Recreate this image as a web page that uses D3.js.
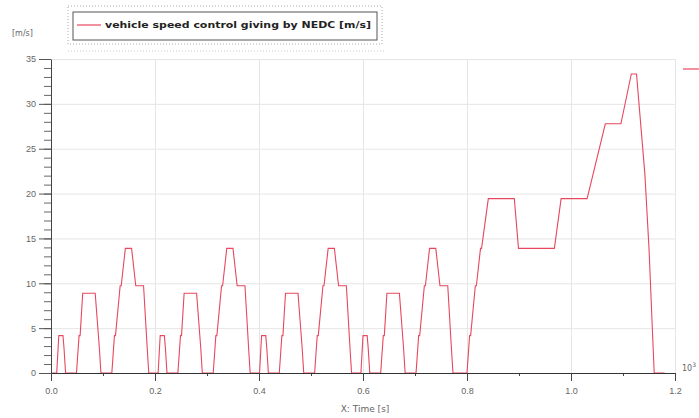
<!DOCTYPE html>
<html>
<head>
<meta charset="utf-8">
<script src="https://cdn.jsdelivr.net/npm/d3@7/dist/d3.min.js"></script>
<style>
  body { margin: 0; background: #fff; }
  svg { display: block; font-family: "DejaVu Sans", Verdana, sans-serif; }
</style>
</head>
<body>
<div id="chart"></div>
<script>
// NEDC speed profile, time in seconds, speed in m/s
const timeS = [
  0, 11, 15, 23, 25, 28, 49, 54, 56, 61, 85, 93, 96, 117, 122, 124, 133, 135, 143, 155, 163, 176, 178, 185, 188,
  195, 206, 210, 218, 220, 223, 244, 249, 251, 256, 280, 288, 291, 312, 317, 319, 328, 330, 338, 350, 358, 371, 373, 380, 383,
  390, 401, 405, 413, 415, 418, 439, 444, 446, 451, 475, 483, 486, 507, 512, 514, 523, 525, 533, 545, 553, 566, 568, 575, 578,
  585, 596, 600, 608, 610, 613, 634, 639, 641, 646, 670, 678, 681, 702, 707, 709, 718, 720, 728, 740, 748, 761, 763, 770, 773,
  780, 800, 805, 807, 816, 818, 826, 828, 841, 891, 899, 968, 981, 1031, 1066, 1096, 1116, 1126, 1142, 1150, 1160, 1180
];
const speedMs = [
  0, 0, 4.17, 4.17, 2.78, 0, 0, 4.17, 4.17, 8.89, 8.89, 2.78, 0, 0, 4.17, 4.17, 9.72, 9.72, 13.89, 13.89, 9.72, 9.72, 9.72, 2.78, 0,
  0, 0, 4.17, 4.17, 2.78, 0, 0, 4.17, 4.17, 8.89, 8.89, 2.78, 0, 0, 4.17, 4.17, 9.72, 9.72, 13.89, 13.89, 9.72, 9.72, 9.72, 2.78, 0,
  0, 0, 4.17, 4.17, 2.78, 0, 0, 4.17, 4.17, 8.89, 8.89, 2.78, 0, 0, 4.17, 4.17, 9.72, 9.72, 13.89, 13.89, 9.72, 9.72, 9.72, 2.78, 0,
  0, 0, 4.17, 4.17, 2.78, 0, 0, 4.17, 4.17, 8.89, 8.89, 2.78, 0, 0, 4.17, 4.17, 9.72, 9.72, 13.89, 13.89, 9.72, 9.72, 9.72, 2.78, 0,
  0, 0, 4.17, 4.17, 9.72, 9.72, 13.89, 13.89, 19.44, 19.44, 13.89, 13.89, 19.44, 19.44, 27.78, 27.78, 33.33, 33.33, 22.22, 13.89, 0, 0
];
const xTicks = [0, 200, 400, 600, 800, 1000, 1200];
const yTicks = [0, 5, 10, 15, 20, 25, 30, 35];
const seriesName = "vehicle speed control giving by NEDC [m/s]";

const data = timeS.map((t, i) => ({ t, v: speedMs[i] }));

const W = 699, H = 418;
const plot = { left: 51, right: 675, top: 59, bottom: 373 };
const lineColor = "#e8475e";

const svg = d3.select("#chart").append("svg")
  .attr("width", W).attr("height", H);

const x = d3.scaleLinear().domain([0, 1200]).range([plot.left, plot.right]);
const y = d3.scaleLinear().domain([0, 35]).range([plot.bottom, plot.top]);

// grid
svg.append("g")
  .attr("transform", `translate(0,${plot.bottom})`)
  .call(d3.axisBottom(x).tickValues(xTicks.slice(1)).tickSize(-(plot.bottom - plot.top)).tickFormat(""))
  .call(g => g.select(".domain").remove())
  .call(g => g.selectAll("line").attr("stroke", "#e6e6e6"));

svg.append("g")
  .attr("transform", `translate(${plot.left},0)`)
  .call(d3.axisLeft(y).tickValues(yTicks.slice(1)).tickSize(-(plot.right - plot.left)).tickFormat(""))
  .call(g => g.select(".domain").remove())
  .call(g => g.selectAll("line").attr("stroke", "#e6e6e6"));

// data line
svg.append("path")
  .datum(data)
  .attr("fill", "none")
  .attr("stroke", lineColor)
  .attr("stroke-width", 1.1)
  .attr("d", d3.line().x(d => x(d.t)).y(d => y(d.v)));

// y axis: minor ticks then major ticks with labels
svg.append("g")
  .attr("transform", `translate(${plot.left},0)`)
  .call(d3.axisLeft(y).ticks(35).tickSize(7).tickFormat(""))
  .call(g => g.select(".domain").remove())
  .call(g => g.selectAll("line").attr("stroke", "#666"));

svg.append("g")
  .attr("transform", `translate(${plot.left},0)`)
  .call(d3.axisLeft(y).tickValues(yTicks).tickSize(12).tickPadding(3).tickSizeOuter(0))
  .call(g => g.select(".domain").attr("stroke", "#444"))
  .call(g => g.selectAll("line").attr("stroke", "#555"))
  .call(g => g.selectAll("text").attr("fill", "#666").style("font-size", "9px"));

// x axis: minor ticks then major ticks with labels
svg.append("g")
  .attr("transform", `translate(0,${plot.bottom})`)
  .call(d3.axisBottom(x).ticks(12).tickSize(3).tickFormat(""))
  .call(g => g.select(".domain").remove())
  .call(g => g.selectAll("line").attr("stroke", "#444"));

svg.append("g")
  .attr("transform", `translate(0,${plot.bottom})`)
  .call(d3.axisBottom(x).tickValues(xTicks).tickSize(8).tickPadding(7).tickSizeOuter(0)
    .tickFormat(d => (d / 1000).toFixed(1)))
  .call(g => g.select(".domain").attr("stroke", "#333"))
  .call(g => g.selectAll("line").attr("stroke", "#444"))
  .call(g => g.selectAll("text").attr("fill", "#666").style("font-size", "9px"));

// axis captions
svg.append("text")
  .attr("x", 12).attr("y", 36)
  .attr("fill", "#666").style("font-size", "8px")
  .text("[m/s]");

svg.append("text")
  .attr("x", 365).attr("y", 412)
  .attr("text-anchor", "middle")
  .attr("fill", "#666").style("font-size", "9px")
  .text("X: Time [s]");

const mult = svg.append("text")
  .attr("x", 682).attr("y", 371)
  .attr("fill", "#666").style("font-size", "8px");
mult.append("tspan").text("10");
mult.append("tspan").attr("dy", -4).style("font-size", "6px").text("3");

// legend
svg.append("rect")
  .attr("x", 68).attr("y", 6).attr("width", 314).attr("height", 38)
  .attr("fill", "none").attr("stroke", "#aaa").attr("stroke-dasharray", "1,2");

svg.append("line")
  .attr("x1", 68).attr("x2", 385).attr("y1", 51).attr("y2", 51)
  .attr("stroke", "#ccc").attr("stroke-dasharray", "1,2");

svg.append("rect")
  .attr("x", 73).attr("y", 12).attr("width", 304).attr("height", 28)
  .attr("fill", "#fff").attr("stroke", "#555").attr("stroke-width", 1);

svg.append("line")
  .attr("x1", 77).attr("x2", 101).attr("y1", 25).attr("y2", 25)
  .attr("stroke", lineColor).attr("stroke-width", 1.2);

svg.append("text")
  .attr("x", 105).attr("y", 28)
  .attr("fill", "#222").style("font-size", "9.5px").style("font-weight", "bold")
  .attr("textLength", 266).attr("lengthAdjust", "spacingAndGlyphs")
  .text(seriesName);

// cut-off legend marker at right edge
svg.append("line")
  .attr("x1", 683).attr("x2", 699).attr("y1", 69).attr("y2", 69)
  .attr("stroke", lineColor).attr("stroke-width", 1.2);
</script>
</body>
</html>
